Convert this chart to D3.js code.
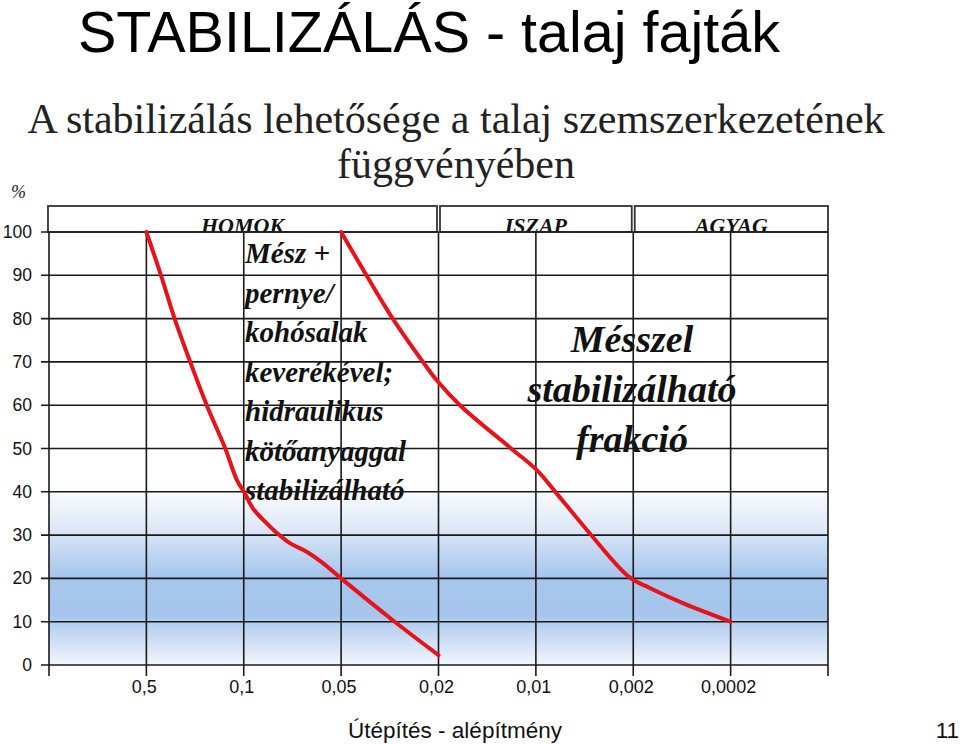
<!DOCTYPE html>
<html>
<head>
<meta charset="utf-8">
<script src="https://cdn.jsdelivr.net/npm/d3@7/dist/d3.min.js"></script>
<style>
  html, body { margin: 0; padding: 0; background: #fff; }
  svg { display: block; }
</style>
</head>
<body>
<svg id="chart" width="960" height="744"></svg>
<script>
// ---- data ----
const xTickLabels = ["0,5", "0,1", "0,05", "0,02", "0,01", "0,002", "0,0002"];
const yTicks = [0, 10, 20, 30, 40, 50, 60, 70, 80, 90, 100];
const soilNames = ["HOMOK", "ISZAP", "AGYAG"];
const soilStart = [0, 4, 6];
const soilEnd = [4, 6, 8];

// curve 1
const curve1X = [1, 1.15, 1.29, 1.45, 1.62, 1.81, 1.93, 2.01, 2.09, 2.2, 2.34, 2.47, 2.65, 2.81, 3.0, 3.55, 4.0];
const curve1Y = [100, 90, 80, 70, 60, 50, 42.7, 39.7, 36.3, 33.5, 30.5, 28.2, 26.1, 23.6, 20, 10, 2.3];
// curve 2
const curve2X = [3, 3.26, 3.53, 3.84, 3.98, 4.22, 4.73, 5.01, 5.21, 5.55, 5.96, 6.17, 6.51, 7];
const curve2Y = [100, 90, 80, 70, 65.8, 60, 50.3, 45, 39.7, 30.5, 20.3, 17.8, 14.3, 10];

const leftNoteLines = ["Mész +", "pernye/", "kohósalak", "keverékével;", "hidraulikus", "kötőanyaggal", "stabilizálható"];
const rightNoteLines = ["Mésszel", "stabilizálható", "frakció"];

// ---- layout ----
const svg = d3.select("#chart");
const x = d3.scaleLinear().domain([0, 8]).range([49, 828]);
const y = d3.scaleLinear().domain([0, 100]).range([665, 232]);

const defs = svg.append("defs");
const grad = defs.append("linearGradient")
  .attr("id", "bg").attr("x1", 0).attr("x2", 0).attr("y1", 0).attr("y2", 1);
[[0, "#ffffff"], [0.25, "#dde8f7"], [0.5, "#a8c7ed"], [0.72, "#a6c5ec"], [1, "#f2f6fc"]]
  .forEach(([o, c]) => grad.append("stop").attr("offset", o).attr("stop-color", c));

// titles
svg.append("text").attr("x", 78).attr("y", 52)
  .attr("font-family", "Liberation Sans, Arial, sans-serif").attr("font-size", 57.5)
  .attr("fill", "#000").text("STABILIZÁLÁS - talaj fajták");
svg.append("text").attr("x", 456).attr("y", 133).attr("text-anchor", "middle")
  .attr("font-family", "Liberation Serif, Times New Roman, serif").attr("font-size", 42)
  .attr("fill", "#222").text("A stabilizálás lehetősége a talaj szemszerkezetének");
svg.append("text").attr("x", 456).attr("y", 178).attr("text-anchor", "middle")
  .attr("font-family", "Liberation Serif, Times New Roman, serif").attr("font-size", 42)
  .attr("fill", "#222").text("függvényében");
svg.append("text").attr("x", 11).attr("y", 198)
  .attr("font-family", "Liberation Serif, serif").attr("font-size", 18).attr("font-style", "italic")
  .attr("fill", "#222").text("%");

// plot background
svg.append("rect").attr("x", x(0)).attr("y", y(100)).attr("width", x(8) - x(0)).attr("height", y(0) - y(100))
  .attr("fill", "#fff");
svg.append("rect").attr("x", x(0)).attr("y", y(42)).attr("width", x(8) - x(0)).attr("height", y(0) - y(42))
  .attr("fill", "url(#bg)");

// header boxes
const hdr = svg.append("g");
soilNames.forEach((name, i) => {
  const x0 = x(soilStart[i]) + (i === 0 ? -1 : 1.5);
  const x1 = x(soilEnd[i]) - (i === soilNames.length - 1 ? 0 : 1.5);
  const cid = "clip" + i;
  defs.append("clipPath").attr("id", cid).append("rect")
    .attr("x", x0).attr("y", 206).attr("width", x1 - x0).attr("height", y(100) - 206);
  hdr.append("text").attr("clip-path", `url(#${cid})`)
    .attr("x", (x0 + x1) / 2).attr("y", 233).attr("text-anchor", "middle")
    .attr("font-family", "Liberation Serif, Times New Roman, serif").attr("font-size", 22)
    .attr("font-weight", "bold").attr("font-style", "italic").attr("fill", "#111").text(name);
  hdr.append("rect").attr("x", x0).attr("y", 206).attr("width", x1 - x0).attr("height", y(100) - 206)
    .attr("fill", "none").attr("stroke", "#333").attr("stroke-width", 1.8);
});

// texts inside plot
const notes = svg.append("g");
leftNoteLines.forEach((t, i) => {
  notes.append("text").attr("x", 245).attr("y", 263 + i * 39.5)
    .attr("font-family", "Liberation Serif, Times New Roman, serif").attr("font-size", 29)
    .attr("font-weight", "bold").attr("font-style", "italic").attr("fill", "#111").text(t);
});
rightNoteLines.forEach((t, i) => {
  notes.append("text").attr("x", 632).attr("y", 352 + i * 50).attr("text-anchor", "middle")
    .attr("font-family", "Liberation Serif, Times New Roman, serif").attr("font-size", 38)
    .attr("font-weight", "bold").attr("font-style", "italic").attr("fill", "#111").text(t);
});

// grid
const grid = svg.append("g").attr("stroke", "#1a1a1a").attr("stroke-width", 1.6);
grid.selectAll("line.h").data(yTicks).join("line")
  .attr("x1", x(0) - 8).attr("x2", x(8)).attr("y1", d => y(d)).attr("y2", d => y(d));
grid.selectAll("line.v").data(d3.range(0, 9)).join("line")
  .attr("x1", d => x(d)).attr("x2", d => x(d)).attr("y1", y(100)).attr("y2", y(0) + 11);

// y labels
svg.append("g").selectAll("text").data(yTicks).join("text")
  .attr("x", 32).attr("y", d => y(d) + 6).attr("text-anchor", "end")
  .attr("font-family", "Liberation Sans, Arial, sans-serif").attr("font-size", 17.5).attr("fill", "#111")
  .text(d => d);

// x labels
svg.append("g").selectAll("text").data(xTickLabels).join("text")
  .attr("x", (d, i) => x(i + 1) - 2).attr("y", 693).attr("text-anchor", "middle")
  .attr("font-family", "Liberation Sans, Arial, sans-serif").attr("font-size", 18).attr("fill", "#111")
  .text(d => d);

// curves
const line = d3.line().x(d => x(d[0])).y(d => y(d[1])).curve(d3.curveCatmullRom.alpha(0.5));
[[curve1X, curve1Y], [curve2X, curve2Y]].forEach(([xs, ys]) => {
  svg.append("path").datum(xs.map((v, i) => [v, ys[i]]))
    .attr("d", line).attr("fill", "none").attr("stroke", "#e5141b").attr("stroke-width", 4)
    .attr("stroke-linecap", "round").attr("stroke-linejoin", "round");
});

// footer
svg.append("text").attr("x", 455).attr("y", 738).attr("text-anchor", "middle")
  .attr("font-family", "Liberation Sans, Arial, sans-serif").attr("font-size", 22.5).attr("fill", "#111")
  .text("Útépítés - alépítmény");
svg.append("text").attr("x", 959).attr("y", 738).attr("text-anchor", "end")
  .attr("font-family", "Liberation Sans, Arial, sans-serif").attr("font-size", 22.5).attr("fill", "#111")
  .text("11");
</script>
</body>
</html>
